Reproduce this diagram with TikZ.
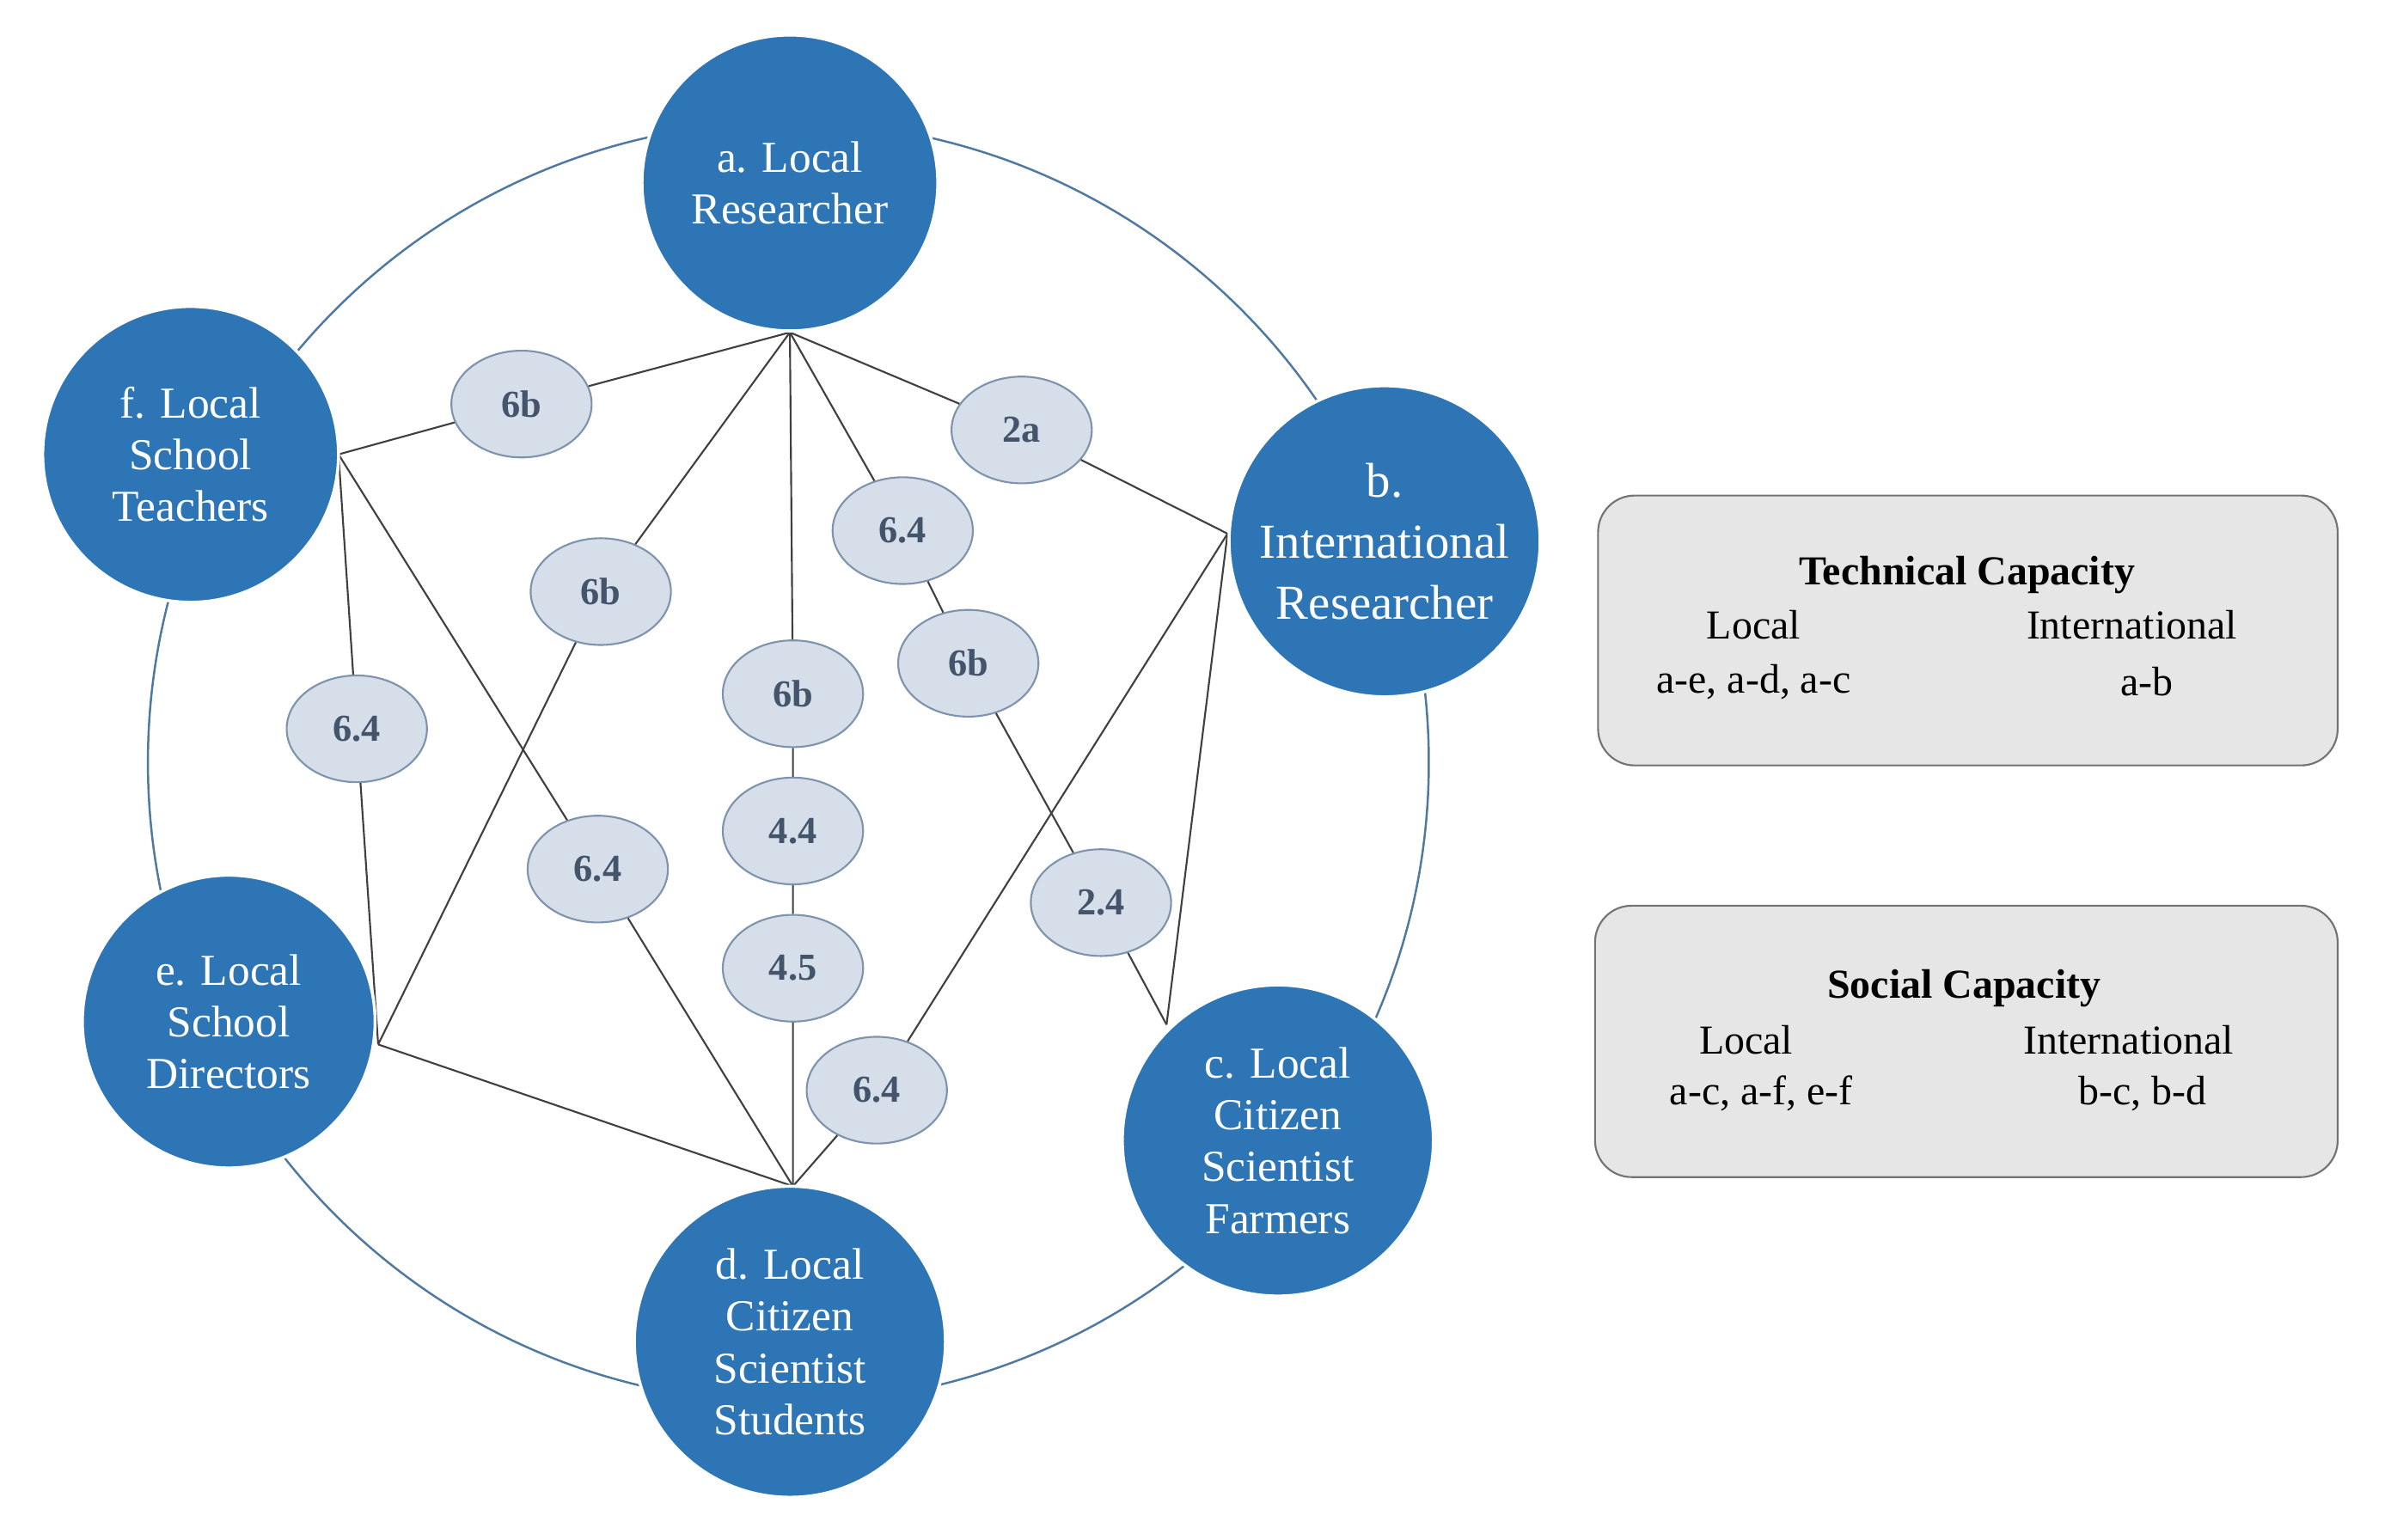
\documentclass[tikz,border=0pt]{standalone}
\usepackage{fontspec}
\setmainfont{Liberation Serif}
\usetikzlibrary{shapes.geometric}
\definecolor{nb}{HTML}{2E75B6}
\definecolor{ef}{HTML}{D6DEEA}
\definecolor{ed}{HTML}{7E93AC}
\definecolor{et}{HTML}{44546A}
\definecolor{bf}{HTML}{E6E6E6}
\begin{document}
\begin{tikzpicture}[x=0.5pt,y=-0.5pt,
  big/.style={circle,fill=nb,draw=white,line width=1pt,text=white,align=center,font=\fontsize{14.5}{17}\selectfont,inner sep=0pt},
  lab/.style={ellipse,fill=ef,draw=ed,line width=0.6pt,text=et,font=\fontsize{12.5}{14}\selectfont\bfseries,minimum width=46pt,minimum height=35pt,inner sep=0pt},
  ln/.style={draw=black!75,line width=0.6pt},
  box/.style={draw=black!55,fill=bf,rounded corners=12pt,line width=0.6pt},
  bt/.style={font=\fontsize{13.5}{16}\selectfont}]
\useasboundingbox (0,0) rectangle (1568,1010);
\draw[draw=nb!60!gray,line width=0.7pt] (517,500) circle[radius=420];
% anchor points
\coordinate (pa) at (518,218);
\coordinate (pf) at (222,298);
\coordinate (pe) at (248,685);
\coordinate (pd) at (520,778);
\coordinate (pb) at (805,350);
\coordinate (pc) at (765,672);
% labels
\node[lab] (l1) at (342,265) {6b};
\node[lab] (l2) at (670,282) {2a};
\node[lab] (l3) at (592,348) {6.4};
\node[lab] (l4) at (394,388) {6b};
\node[lab] (l5) at (635,435) {6b};
\node[lab] (l6) at (520,455) {6b};
\node[lab] (l7) at (234,478) {6.4};
\node[lab] (l8) at (520,545) {4.4};
\node[lab] (l9) at (392,570) {6.4};
\node[lab] (l10) at (722,592) {2.4};
\node[lab] (l11) at (520,635) {4.5};
\node[lab] (l12) at (575,715) {6.4};
% connectors
\draw[ln] (pf) -- (l1) (l1) -- (pa);
\draw[ln] (pa) -- (l2) (l2) -- (pb);
\draw[ln] (pa) -- (l3) (l3) -- (l5) (l5) -- (l10) (l10) -- (pc);
\draw[ln] (pa) -- (l4) (l4) -- (pe);
\draw[ln] (pa) -- (l6) (l6) -- (l8) (l8) -- (l11) (l11) -- (pd);
\draw[ln] (pf) -- (l7) (l7) -- (pe);
\draw[ln] (pf) -- (l9) (l9) -- (pd);
\draw[ln] (pe) -- (pd);
\draw[ln] (pb) -- (l12) (l12) -- (pd);
\draw[ln] (pb) -- (pc);
% big nodes
\node[big,minimum size=97pt] (a) at (518,120) {a. Local\\Researcher};
\node[big,minimum size=102pt,font=\fontsize{16}{20}\selectfont] (b) at (908,355) {b.\\International\\Researcher};
\node[big,minimum size=102pt] (c) at (838,748) {c. Local\\Citizen\\Scientist\\Farmers};
\node[big,minimum size=102pt] (d) at (518,880) {d. Local\\Citizen\\Scientist\\Students};
\node[big,minimum size=96pt] (e) at (150,670) {e. Local\\School\\Directors};
\node[big,minimum size=97pt] (f) at (125,298) {f. Local\\School\\Teachers};
% boxes
\draw[box] (1048,325) rectangle (1533,502);
\node[bt,font=\fontsize{13.5}{16}\selectfont\bfseries] (t1) at (1290,377) {Technical Capacity};
\node[bt] (t2) at (1150,410) {Local};
\node[bt] (t3) at (1398,410) {International};
\node[bt] (t4) at (1150,447) {a-e, a-d, a-c};
\node[bt] (t5) at (1408,447) {a-b};
\draw[box] (1046,594) rectangle (1533,772);
\node[bt,font=\fontsize{13.5}{16}\selectfont\bfseries] (s1) at (1288,648) {Social Capacity};
\node[bt] (s2) at (1145,682) {Local};
\node[bt] (s3) at (1396,682) {International};
\node[bt] (s4) at (1155,717) {a-c, a-f, e-f};
\node[bt] (s5) at (1405,717) {b-c, b-d};
\end{tikzpicture}
\end{document}
